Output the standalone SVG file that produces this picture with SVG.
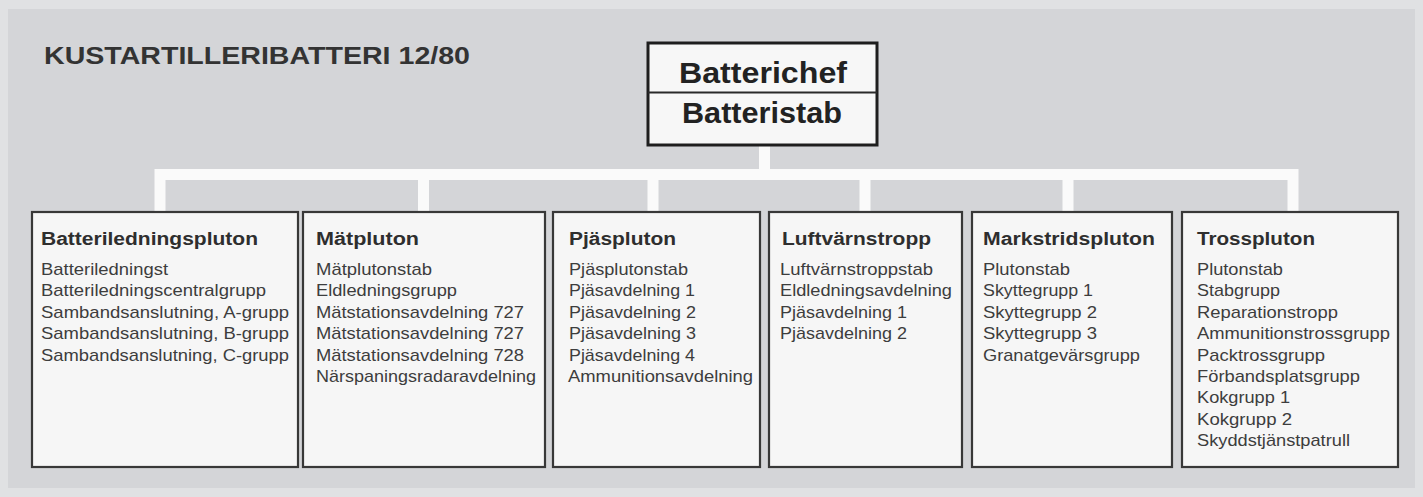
<svg xmlns="http://www.w3.org/2000/svg" width="1423" height="497" viewBox="0 0 1423 497">
<style>
.bg{fill:#e0e1e3}
.panel{fill:#d4d5d8}
.title{font-family:"Liberation Sans",Arial,sans-serif;font-weight:bold;font-size:24px;fill:#333}
.chief{fill:#f7f7f7;stroke:#1e1e1e;stroke-width:3}
.div{stroke:#2a2a2a;stroke-width:2}
.ct{font-family:"Liberation Sans",Arial,sans-serif;font-weight:bold;font-size:29px;fill:#222;text-anchor:middle}
.box{fill:#f6f6f6;stroke:#383838;stroke-width:2.2}
.hd{font-family:"Liberation Sans",Arial,sans-serif;font-weight:bold;font-size:18px;fill:#2e2e2e}
.it{font-family:"Liberation Sans",Arial,sans-serif;font-size:17px;fill:#3d3d3d}
.conn{fill:none;stroke:#fafafa;stroke-width:11;stroke-linejoin:miter}
</style>
<rect class="bg" x="0" y="0" width="1423" height="497"/>
<rect class="panel" x="8" y="9" width="1407" height="479"/>
<text class="title" x="44" y="64" textLength="426" lengthAdjust="spacingAndGlyphs">KUSTARTILLERIBATTERI 12/80</text>

<g id="connectors">
<path class="conn" d="M764.5,145 V174.5"/>
<path class="conn" d="M160,212 V174.5 H1293 V212"/>
<path class="conn" d="M423.5,174.5 V212"/>
<path class="conn" d="M653,174.5 V212"/>
<path class="conn" d="M865,174.5 V212"/>
<path class="conn" d="M1068,174.5 V212"/>
</g>

<g id="batterichef">
<rect class="chief" x="648" y="43" width="229" height="102"/>
<line class="div" x1="648" y1="92.5" x2="877" y2="92.5"/>
<text class="ct" x="763" y="83" textLength="168" lengthAdjust="spacingAndGlyphs">Batterichef</text>
<text class="ct" x="762" y="123" textLength="160" lengthAdjust="spacingAndGlyphs">Batteristab</text>
</g>

<g id="batteriledningspluton">
<rect class="box" x="32" y="212" width="266" height="255"/>
<text class="hd" x="41" y="245" textLength="217" lengthAdjust="spacingAndGlyphs">Batteriledningspluton</text>
<text class="it" x="41" y="275" textLength="127" lengthAdjust="spacingAndGlyphs">Batteriledningst</text>
<text class="it" x="41" y="296.4" textLength="225" lengthAdjust="spacingAndGlyphs">Batteriledningscentralgrupp</text>
<text class="it" x="41" y="317.8" textLength="248" lengthAdjust="spacingAndGlyphs">Sambandsanslutning, A-grupp</text>
<text class="it" x="41" y="339.2" textLength="248" lengthAdjust="spacingAndGlyphs">Sambandsanslutning, B-grupp</text>
<text class="it" x="41" y="360.6" textLength="248" lengthAdjust="spacingAndGlyphs">Sambandsanslutning, C-grupp</text>
</g>

<g id="matpluton">
<rect class="box" x="303" y="212" width="242" height="255"/>
<text class="hd" x="316" y="245" textLength="103" lengthAdjust="spacingAndGlyphs">Mätpluton</text>
<text class="it" x="316" y="275" textLength="116" lengthAdjust="spacingAndGlyphs">Mätplutonstab</text>
<text class="it" x="316" y="296.4" textLength="141" lengthAdjust="spacingAndGlyphs">Eldledningsgrupp</text>
<text class="it" x="316" y="317.8" textLength="208" lengthAdjust="spacingAndGlyphs">Mätstationsavdelning 727</text>
<text class="it" x="316" y="339.2" textLength="208" lengthAdjust="spacingAndGlyphs">Mätstationsavdelning 727</text>
<text class="it" x="316" y="360.6" textLength="208" lengthAdjust="spacingAndGlyphs">Mätstationsavdelning 728</text>
<text class="it" x="316" y="382" textLength="220" lengthAdjust="spacingAndGlyphs">Närspaningsradaravdelning</text>
</g>

<g id="pjaspluton">
<rect class="box" x="553" y="212" width="207" height="255"/>
<text class="hd" x="569" y="245" textLength="107" lengthAdjust="spacingAndGlyphs">Pjäspluton</text>
<text class="it" x="569" y="275" textLength="119" lengthAdjust="spacingAndGlyphs">Pjäsplutonstab</text>
<text class="it" x="569" y="296.4" textLength="126" lengthAdjust="spacingAndGlyphs">Pjäsavdelning 1</text>
<text class="it" x="569" y="317.8" textLength="127" lengthAdjust="spacingAndGlyphs">Pjäsavdelning 2</text>
<text class="it" x="569" y="339.2" textLength="127" lengthAdjust="spacingAndGlyphs">Pjäsavdelning 3</text>
<text class="it" x="569" y="360.6" textLength="126" lengthAdjust="spacingAndGlyphs">Pjäsavdelning 4</text>
<text class="it" x="568" y="382" textLength="185" lengthAdjust="spacingAndGlyphs">Ammunitionsavdelning</text>
</g>

<g id="luftvarnstropp">
<rect class="box" x="769" y="212" width="193" height="255"/>
<text class="hd" x="782" y="245" textLength="149" lengthAdjust="spacingAndGlyphs">Luftvärnstropp</text>
<text class="it" x="780" y="275" textLength="153" lengthAdjust="spacingAndGlyphs">Luftvärnstroppstab</text>
<text class="it" x="780" y="296.4" textLength="172" lengthAdjust="spacingAndGlyphs">Eldledningsavdelning</text>
<text class="it" x="780" y="317.8" textLength="127" lengthAdjust="spacingAndGlyphs">Pjäsavdelning 1</text>
<text class="it" x="780" y="339.2" textLength="127" lengthAdjust="spacingAndGlyphs">Pjäsavdelning 2</text>
</g>

<g id="markstridspluton">
<rect class="box" x="972" y="212" width="200" height="255"/>
<text class="hd" x="983" y="245" textLength="172" lengthAdjust="spacingAndGlyphs">Markstridspluton</text>
<text class="it" x="983" y="275" textLength="87" lengthAdjust="spacingAndGlyphs">Plutonstab</text>
<text class="it" x="983" y="296.4" textLength="110" lengthAdjust="spacingAndGlyphs">Skyttegrupp 1</text>
<text class="it" x="983" y="317.8" textLength="114" lengthAdjust="spacingAndGlyphs">Skyttegrupp 2</text>
<text class="it" x="983" y="339.2" textLength="114" lengthAdjust="spacingAndGlyphs">Skyttegrupp 3</text>
<text class="it" x="983" y="360.6" textLength="157" lengthAdjust="spacingAndGlyphs">Granatgevärsgrupp</text>
</g>

<g id="trosspluton">
<rect class="box" x="1182" y="212" width="216" height="255"/>
<text class="hd" x="1197" y="245" textLength="118" lengthAdjust="spacingAndGlyphs">Trosspluton</text>
<text class="it" x="1197" y="275" textLength="86" lengthAdjust="spacingAndGlyphs">Plutonstab</text>
<text class="it" x="1197" y="296.4" textLength="83" lengthAdjust="spacingAndGlyphs">Stabgrupp</text>
<text class="it" x="1197" y="317.8" textLength="141" lengthAdjust="spacingAndGlyphs">Reparationstropp</text>
<text class="it" x="1197" y="339.2" textLength="193" lengthAdjust="spacingAndGlyphs">Ammunitionstrossgrupp</text>
<text class="it" x="1197" y="360.6" textLength="128" lengthAdjust="spacingAndGlyphs">Packtrossgrupp</text>
<text class="it" x="1197" y="382" textLength="163" lengthAdjust="spacingAndGlyphs">Förbandsplatsgrupp</text>
<text class="it" x="1197" y="403.4" textLength="93" lengthAdjust="spacingAndGlyphs">Kokgrupp 1</text>
<text class="it" x="1197" y="424.8" textLength="95" lengthAdjust="spacingAndGlyphs">Kokgrupp 2</text>
<text class="it" x="1197" y="446.2" textLength="153" lengthAdjust="spacingAndGlyphs">Skyddstjänstpatrull</text>
</g>
</svg>
